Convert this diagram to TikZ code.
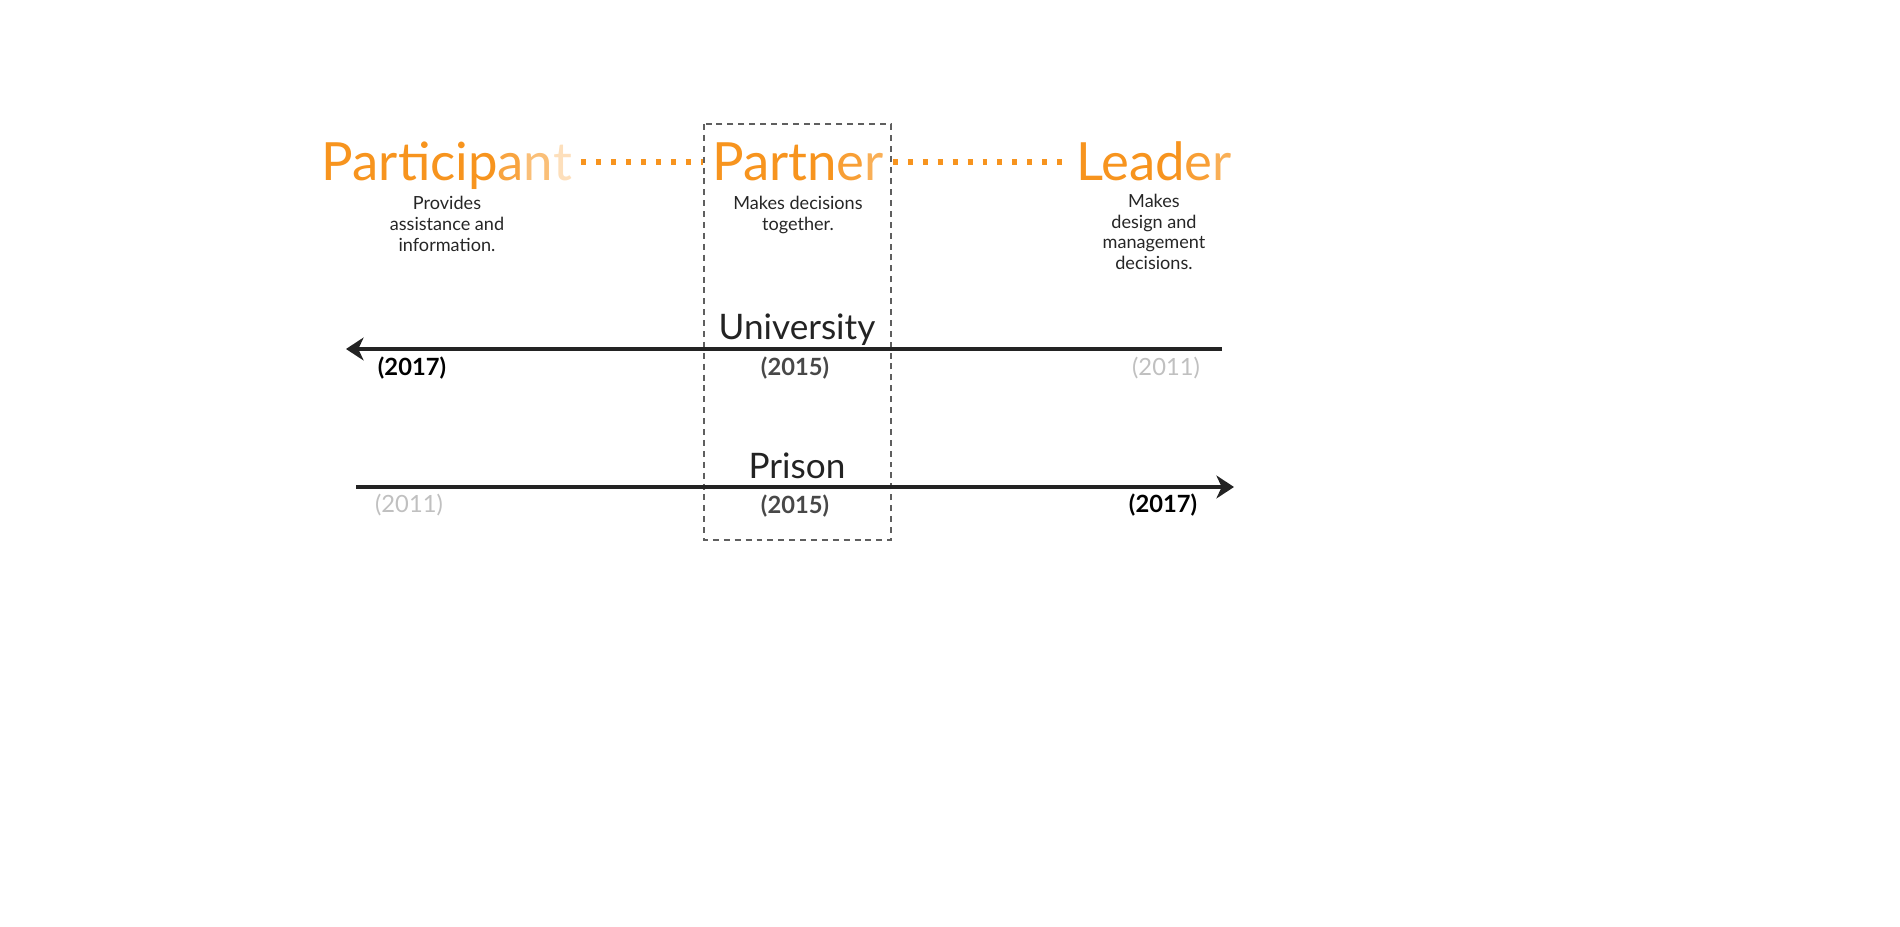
\documentclass[tikz,border=0pt]{standalone}
\usepackage{fontspec}
\setmainfont{Lato}
\usetikzlibrary{arrows.meta}

\definecolor{orng}{RGB}{247,148,30}
\definecolor{paleyear}{RGB}{192,192,192}
\definecolor{midyear}{RGB}{72,72,72}
\definecolor{axisgray}{RGB}{35,35,35}
\definecolor{boxgray}{RGB}{95,95,95}

\begin{document}
\begin{tikzpicture}[x=0.2mm, y=-0.2mm,
  every node/.style={align=center},
  title/.style={font=\fontsize{30}{34}\selectfont, text=orng,
    text height=27pt, text depth=5.4pt, inner xsep=5pt, inner ysep=0pt},
  desc/.style={font=\fontsize{10.3}{11.8}\selectfont, text=black!85},
  lane/.style={font=\fontsize{20}{24}\selectfont, text=axisgray, anchor=base},
  yr/.style={font=\fontsize{13.5}{16}\selectfont},
  dotline/.style={draw=orng, line width=3.8pt, dash pattern=on 2.8pt off 5.7pt},
  timeline/.style={draw=axisgray, line width=2.8pt,
    -{Stealth[length=10pt, width=13pt, inset=3pt]}}]

  % 画布大小(像素坐标)
  \useasboundingbox (0,0) rectangle (1900,927);

  % ---- 中间虚线框: Partner ----
  \draw[boxgray, line width=0.6pt, dash pattern=on 3.4pt off 2.8pt]
    (704,124) rectangle (891,540);

  % ---- 顶部: 三个角色 ----
  \node[title] (participant) at (447,162)
    {Particip\textcolor{orng!85}{a}\textcolor{orng!60}{n}\textcolor{orng!30}{t}};
  \node[title] (partner) at (798,162)
    {Partn\textcolor{orng!90}{e}\textcolor{orng!75}{r}};
  \node[title] (leader) at (1154,162)
    {Lead\textcolor{orng!90}{e}\textcolor{orng!75}{r}};

  \draw[dotline] (participant) -- (partner);
  \draw[dotline] (partner) -- (leader);

  % 说明文字
  \node[desc] (partdesc) at (447,224) {Provides\\assistance and\\information.};
  \node[desc] (ptnrdesc) at (798,215) {Makes decisions\\together.};
  \node[desc] (leaddesc) at (1154,232) {Makes\\design and\\management\\decisions.};

  % ---- University: 从右往左 ----
  \coordinate (uniR) at (1222,349);
  \coordinate (uniL) at (346,349);
  \draw[timeline] (uniR) -- (uniL);
  \node[lane] (uni) at (797,340) {University};
  \node[yr, font=\fontsize{13.5}{16}\selectfont\bfseries, text=black] (u17) at (412,368) {(2017)};
  \node[yr, font=\fontsize{13.5}{16}\selectfont\bfseries, text=midyear] (u15) at (795,368) {(2015)};
  \node[yr, text=paleyear] (u11) at (1166,368) {(2011)};

  % ---- Prison: 从左往右 ----
  \coordinate (priL) at (356,487);
  \coordinate (priR) at (1234,487);
  \draw[timeline] (priL) -- (priR);
  \node[lane] (pri) at (797,479) {Prison};
  \node[yr, text=paleyear] (p11) at (409,505) {(2011)};
  \node[yr, font=\fontsize{13.5}{16}\selectfont\bfseries, text=midyear] (p15) at (795,506) {(2015)};
  \node[yr, font=\fontsize{13.5}{16}\selectfont\bfseries, text=black] (p17) at (1163,505) {(2017)};

\end{tikzpicture}
\end{document}
